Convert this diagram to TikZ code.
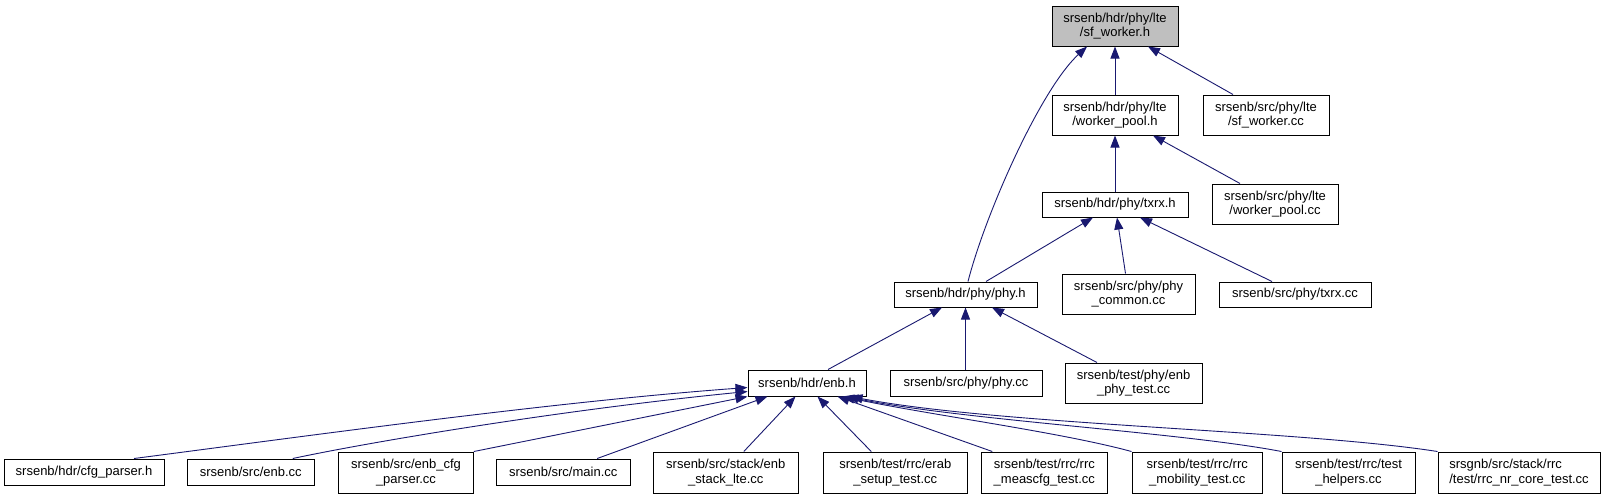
\documentclass[tikz,border=0pt]{standalone}
\usepackage{fontspec}
\setmainfont{Liberation Sans}
\usetikzlibrary{arrows.meta}
\definecolor{edgeblue}{HTML}{191970}
\definecolor{curgray}{HTML}{BFBFBF}
\tikzset{
  box/.style={draw=black, line width=1pt, fill=white, inner sep=0pt, align=center,
    font=\fontsize{13}{14.5}\selectfont},
  edge/.style={draw=edgeblue, line width=0.9pt, -{Triangle[length=12pt,width=9pt]}},
}
\begin{document}
\begin{tikzpicture}[x=1pt,y=-1pt]
\useasboundingbox[fill=white] (0,0) rectangle (1608,499);
% nodes
\node[box, fill=curgray, minimum width=126pt, minimum height=40pt] (sfw) at (1115,26) {srsenb/hdr/phy/lte\\/sf\_worker.h};
\node[box, minimum width=126pt, minimum height=40pt] (wph) at (1115,115) {srsenb/hdr/phy/lte\\/worker\_pool.h};
\node[box, minimum width=126pt, minimum height=40pt] (sfwcc) at (1266,115) {srsenb/src/phy/lte\\/sf\_worker.cc};
\node[box, minimum width=146pt, minimum height=25pt] (txrxh) at (1115,204.5) {srsenb/hdr/phy/txrx.h};
\node[box, minimum width=126pt, minimum height=40pt] (wpcc) at (1275,204) {srsenb/src/phy/lte\\/worker\_pool.cc};
\node[box, minimum width=143pt, minimum height=25pt] (phyh) at (965.5,294.5) {srsenb/hdr/phy/phy.h};
\node[box, minimum width=133pt, minimum height=40pt] (phycom) at (1128.5,294) {srsenb/src/phy/phy\\\_common.cc};
\node[box, minimum width=152pt, minimum height=25pt] (txrxcc) at (1295,294.5) {srsenb/src/phy/txrx.cc};
\node[box, minimum width=118pt, minimum height=26pt] (enbh) at (807,383) {srsenb/hdr/enb.h};
\node[box, minimum width=152pt, minimum height=26pt] (phycc) at (966,383) {srsenb/src/phy/phy.cc};
\node[box, minimum width=137pt, minimum height=40pt] (enbphy) at (1133.5,383) {srsenb/test/phy/enb\\\_phy\_test.cc};
\node[box, minimum width=160pt, minimum height=26pt] (cfg) at (84,472) {srsenb/hdr/cfg\_parser.h};
\node[box, minimum width=126.5pt, minimum height=26pt] (enbcc) at (250.75,472) {srsenb/src/enb.cc};
\node[box, minimum width=134.6pt, minimum height=41pt] (enbcfg) at (406,472.5) {srsenb/src/enb\_cfg\\\_parser.cc};
\node[box, minimum width=133.6pt, minimum height=26pt] (main) at (563.2,472) {srsenb/src/main.cc};
\node[box, minimum width=144.4pt, minimum height=41pt] (stack) at (725.8,472.5) {srsenb/src/stack/enb\\\_stack\_lte.cc};
\node[box, minimum width=144.5pt, minimum height=41pt] (erab) at (895.25,472.5) {srsenb/test/rrc/erab\\\_setup\_test.cc};
\node[box, minimum width=126.6pt, minimum height=41pt] (meas) at (1044.3,472.5) {srsenb/test/rrc/rrc\\\_meascfg\_test.cc};
\node[box, minimum width=130.5pt, minimum height=41pt] (mob) at (1197.25,472.5) {srsenb/test/rrc/rrc\\\_mobility\_test.cc};
\node[box, minimum width=133pt, minimum height=41pt] (help) at (1348.5,472.5) {srsenb/test/rrc/test\\\_helpers.cc};
\node[box, align=left, minimum width=162pt, minimum height=41pt] (nrcore) at (1519,472.5) {srsgnb/src/stack/rrc\\/test/rrc\_nr\_core\_test.cc};
% top edges
\draw[edge] (wph.north) -- (sfw.south);
\draw[edge] ([xshift=-33pt]sfwcc.north) -- ([xshift=33pt]sfw.south);
\draw[edge] ([xshift=2.5pt]phyh.north) .. controls (985,215) and (1040,90) .. ([xshift=-28pt]sfw.south);
\draw[edge] (txrxh.north) -- (wph.south);
\draw[edge] ([xshift=-35pt]wpcc.north) -- ([xshift=38pt]wph.south);
\draw[edge] ([xshift=20.5pt]phyh.north) -- ([xshift=-22pt]txrxh.south);
\draw[edge] ([xshift=-3pt]phycom.north) -- ([xshift=2pt]txrxh.south);
\draw[edge] ([xshift=-23pt]txrxcc.north) -- ([xshift=25pt]txrxh.south);
\draw[edge] ([xshift=21pt]enbh.north) -- ([xshift=-23.5pt]phyh.south);
\draw[edge] ([xshift=-0.5pt]phycc.north) -- (phyh.south);
\draw[edge] ([xshift=-36.5pt]enbphy.north) -- ([xshift=26.5pt]phyh.south);
% bottom edges
\draw[edge] ([xshift=50pt]cfg.north) .. controls (300,437) and (550,402) .. ([yshift=9pt]enbh.south west);
\draw[edge] ([xshift=42pt]enbcc.north) .. controls (370,442) and (560,410) .. ([yshift=5pt]enbh.south west);
\draw[edge] (enbcfg.north east) -- (enbh.south west);
\draw[edge] ([xshift=34pt]main.north) -- ([xshift=20pt]enbh.south west);
\draw[edge] ([xshift=18pt]stack.north) -- ([xshift=48pt]enbh.south west);
\draw[edge] ([xshift=-24pt]erab.north) -- ([xshift=70pt]enbh.south west);
\draw[edge] ([xshift=-52pt]meas.north) -- ([xshift=90pt]enbh.south west);
\draw[edge] (mob.north west) .. controls (1060,432) and (930,415) .. ([xshift=95pt]enbh.south west);
\draw[edge] (help.north west) .. controls (1180,432) and (960,420) .. ([xshift=99pt]enbh.south west);
\draw[edge] (nrcore.north west) .. controls (1300,430) and (1000,425) .. ([xshift=103pt]enbh.south west);
\end{tikzpicture}
\end{document}
